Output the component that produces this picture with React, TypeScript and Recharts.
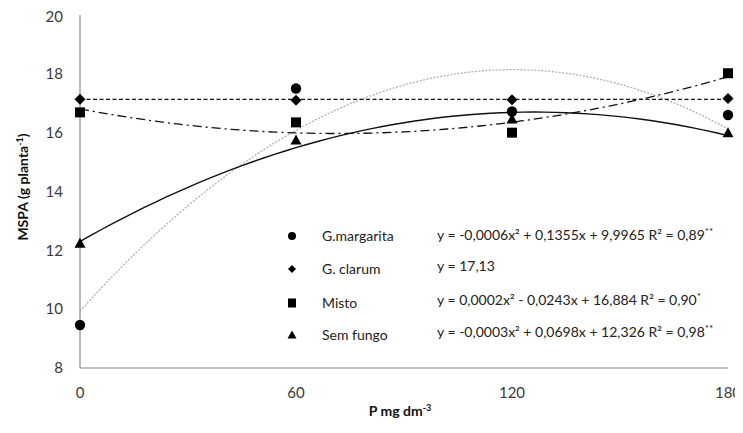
import React from 'react';
import { ComposedChart, Line, Scatter, XAxis, YAxis, Label } from 'recharts';

// P doses (mg dm-3) and shoot dry mass (MSPA, g per plant) for each inoculation treatment
const doses = [0, 60, 120, 180];
const margarita = [9.46, 17.5, 16.72, 16.6];
const clarum = [17.14, 17.1, 17.12, 17.16];
const misto = [16.69, 16.35, 16.0, 18.02];
const semFungo = [12.22, 15.73, 16.45, 15.98];

const xTicks = [0, 60, 120, 180];
const yTicks = [8, 10, 12, 14, 16, 18, 20];

const seriesNames = ['G.margarita', 'G. clarum', 'Misto', 'Sem fungo'];
const equations = [
  { eq: 'y = -0,0006x² + 0,1355x + 9,9965 R² = 0,89', sig: '**' },
  { eq: 'y = 17,13', sig: '' },
  { eq: 'y = 0,0002x² - 0,0243x + 16,884 R² = 0,90', sig: '*' },
  { eq: 'y = -0,0003x² + 0,0698x + 12,326 R² = 0,98', sig: '**' },
];

const FONT = 'Lato, "Open Sans", sans-serif';

// least-squares quadratic fit y = a + b x + c x²
function quadFit(xs: number[], ys: number[]) {
  const s = [0, 0, 0, 0, 0];
  const t = [0, 0, 0];
  xs.forEach((x, i) => {
    for (let k = 0; k < 5; k++) s[k] += Math.pow(x, k);
    for (let k = 0; k < 3; k++) t[k] += Math.pow(x, k) * ys[i];
  });
  const m = [
    [s[0], s[1], s[2], t[0]],
    [s[1], s[2], s[3], t[1]],
    [s[2], s[3], s[4], t[2]],
  ];
  for (let i = 0; i < 3; i++) {
    for (let j = i + 1; j < 3; j++) {
      const f = m[j][i] / m[i][i];
      for (let k = i; k < 4; k++) m[j][k] -= f * m[i][k];
    }
  }
  const r = [0, 0, 0];
  for (let i = 2; i >= 0; i--) {
    let v = m[i][3];
    for (let k = i + 1; k < 3; k++) v -= m[i][k] * r[k];
    r[i] = v / m[i][i];
  }
  return (x: number) => r[0] + r[1] * x + r[2] * x * x;
}

const fMargarita = quadFit(doses, margarita);
const fMisto = quadFit(doses, misto);
const fSem = quadFit(doses, semFungo);
const clarumMean = clarum.reduce((a, b) => a + b, 0) / clarum.length;

const trendData: { x: number; margarita: number; clarum: number; misto: number; sem: number }[] = [];
for (let x = 0; x <= 180; x += 3) {
  trendData.push({ x, margarita: fMargarita(x), clarum: clarumMean, misto: fMisto(x), sem: fSem(x) });
}

const toPoints = (vals: number[]) => doses.map((x, i) => ({ x, y: vals[i] }));

const Circle = (p: any) => <circle cx={p.cx} cy={p.cy} r={5.2} fill="#000" />;
const Diamond = (p: any) => (
  <path d={`M${p.cx},${p.cy - 5.5}L${p.cx + 5.5},${p.cy}L${p.cx},${p.cy + 5.5}L${p.cx - 5.5},${p.cy}Z`} fill="#000" />
);
const Square = (p: any) => <rect x={p.cx - 5} y={p.cy - 5} width={10} height={10} fill="#000" />;
const Triangle = (p: any) => (
  <path d={`M${p.cx},${p.cy - 6}L${p.cx + 5.5},${p.cy + 4}L${p.cx - 5.5},${p.cy + 4}Z`} fill="#000" />
);

const legendMarkers = [
  (x: number, y: number) => <circle cx={x} cy={y} r={4} fill="#000" />,
  (x: number, y: number) => <path d={`M${x},${y - 4}L${x + 4},${y}L${x},${y + 4}L${x - 4},${y}Z`} fill="#000" />,
  (x: number, y: number) => <rect x={x - 4} y={y - 4.5} width={8} height={9} fill="#000" />,
  (x: number, y: number) => <path d={`M${x},${y - 4.5}L${x + 4.5},${y + 3.5}L${x - 4.5},${y + 3.5}Z`} fill="#000" />,
];
const legendRows = [228, 261, 295, 327];
const eqRows = [227, 258, 292, 324];

export default function App() {
  return (
    <div style={{ position: 'relative', width: 735, height: 417 }}>
      <style>{'html, body { overflow: hidden; } .recharts-surface { overflow: visible; }'}</style>
      <ComposedChart
        width={735}
        height={417}
        data={trendData}
        margin={{ top: 7, right: 15, bottom: 27, left: 22 }}
        style={{ fontFamily: FONT }}
      >
        <XAxis
          dataKey="x"
          type="number"
          domain={[0, 180]}
          ticks={xTicks}
          height={30}
          tickLine={false}
          tickSize={0}
          tickMargin={19}
          axisLine={{ stroke: '#8a8a8a', strokeWidth: 1.2 }}
          tick={{ fill: '#3a3a3a', fontSize: 15, fontFamily: FONT }}
        >
          <Label
            content={() => (
              <text x={392} y={408} textAnchor="middle" fontFamily={FONT} fontWeight="bold" fontSize={14} fill="#111">
                P mg dm
                <tspan dy={-5} fontSize={9}>-3</tspan>
              </text>
            )}
          />
        </XAxis>
        <YAxis
          type="number"
          domain={[8, 20]}
          ticks={yTicks}
          width={50}
          tickLine={false}
          tickSize={0}
          tickMargin={17}
          axisLine={{ stroke: '#8a8a8a', strokeWidth: 1.2 }}
          tick={{ fill: '#3a3a3a', fontSize: 15, fontFamily: FONT }}
        >
          <Label
            content={() => (
              <text
                transform="translate(20,179) rotate(-90)"
                textAnchor="middle"
                fontFamily={FONT}
                fontWeight="bold"
                fontSize={14}
                fill="#111"
              >
                MSPA (g planta
                <tspan dy={-5} fontSize={9}>-1</tspan>
                <tspan dy={5}>)</tspan>
              </text>
            )}
          />
        </YAxis>
        <Line dataKey="margarita" type="monotone" stroke="#b0b0b0" strokeWidth={1.3} strokeDasharray="2 1.5" dot={false} isAnimationActive={false} />
        <Line dataKey="clarum" type="linear" stroke="#111" strokeWidth={1.3} strokeDasharray="4 2.5" dot={false} isAnimationActive={false} />
        <Line dataKey="misto" type="monotone" stroke="#111" strokeWidth={1.3} strokeDasharray="9 4 2 4" dot={false} isAnimationActive={false} />
        <Line dataKey="sem" type="monotone" stroke="#111" strokeWidth={1.4} dot={false} isAnimationActive={false} />
        <Scatter data={toPoints(margarita)} dataKey="y" shape={Circle} isAnimationActive={false} />
        <Scatter data={toPoints(clarum)} dataKey="y" shape={Diamond} isAnimationActive={false} />
        <Scatter data={toPoints(misto)} dataKey="y" shape={Square} isAnimationActive={false} />
        <Scatter data={toPoints(semFungo)} dataKey="y" shape={Triangle} isAnimationActive={false} />
      </ComposedChart>
      <svg
        width={735}
        height={417}
        style={{ position: 'absolute', left: 0, top: 0, pointerEvents: 'none', fontFamily: FONT }}
      >
        {seriesNames.map((name, i) => (
          <g key={name}>
            {legendMarkers[i](284, legendRows[i])}
            <text x={314} y={legendRows[i]} dy="0.35em" fontSize={14} fill="#222">
              {name}
            </text>
            <text x={429} y={eqRows[i]} dy="0.35em" fontSize={14} fill="#222">
              {equations[i].eq}
              {equations[i].sig && (
                <tspan dy={-5} fontSize={10}>
                  {equations[i].sig}
                </tspan>
              )}
            </text>
          </g>
        ))}
      </svg>
    </div>
  );
}
